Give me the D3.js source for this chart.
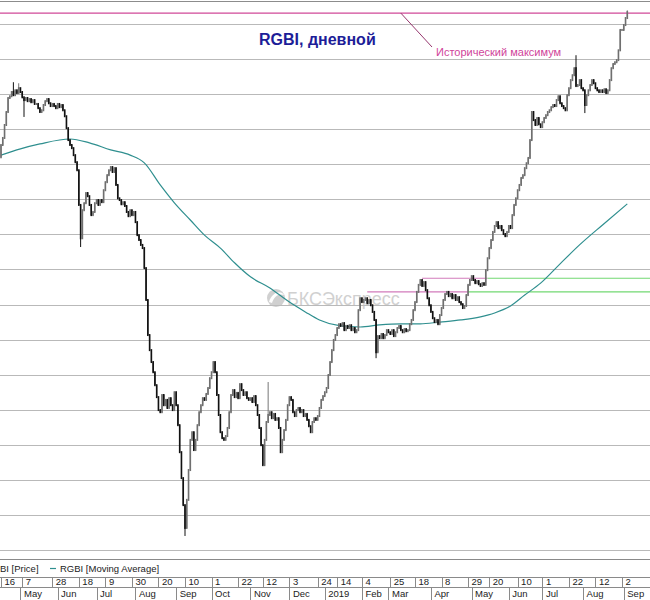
<!DOCTYPE html>
<html>
<head>
<meta charset="utf-8">
<script src="https://cdn.jsdelivr.net/npm/d3@7"></script>
<style>
  body { margin: 0; background: #fff; }
  svg { display: block; font-family: Arial, "Liberation Sans", sans-serif; }
</style>
</head>
<body>
<div id="chart"></div>
<script>
// daily closes, trading-day index 0 = 16 Apr 2018
const closes = [
  142.55,142.75,143.12,143.49,143.89,143.94,144.06,143.97,144.11,144.03,
  144.17,144.06,143.91,143.83,143.89,143.80,143.86,143.77,143.83,143.72,
  143.72,143.60,143.49,143.54,143.69,143.80,143.86,143.74,143.66,143.72,
  143.66,143.60,143.72,143.63,143.69,143.54,143.37,143.03,142.69,142.55,
  142.46,142.26,142.06,141.83,140.84,139.89,140.69,140.89,141.18,141.09,
  140.84,140.55,140.64,140.89,140.98,140.84,140.98,140.92,141.26,141.49,
  141.69,141.83,141.92,141.78,141.89,141.41,141.03,140.98,140.86,140.92,
  140.81,140.64,140.52,140.69,140.55,140.64,140.35,139.98,139.84,139.70,
  139.61,139.04,138.13,137.13,136.70,136.36,136.07,135.70,135.36,134.99,
  134.93,135.42,135.13,135.28,135.05,135.33,135.13,134.99,135.50,135.13,
  134.56,133.79,133.05,132.28,131.63,132.43,133.28,134.14,134.36,133.85,
  134.14,134.56,134.93,135.13,135.33,135.28,135.45,135.62,135.90,136.07,
  136.36,136.07,135.42,134.85,134.36,134.19,134.14,134.25,134.48,134.93,
  135.42,135.56,135.36,135.48,135.33,135.73,135.56,135.42,135.50,135.33,
  135.28,135.33,135.22,135.39,135.13,134.85,134.48,133.99,133.42,134.14,
  134.65,134.85,134.93,134.76,134.88,134.71,134.76,134.48,133.79,134.14,
  134.42,134.71,135.13,135.36,135.28,134.93,134.82,134.99,135.05,134.93,
  134.99,134.82,134.88,134.71,134.53,134.36,134.65,134.76,134.71,134.82,
  135.05,135.28,135.39,135.50,135.62,135.99,136.36,136.70,136.99,137.13,
  137.33,137.44,137.39,137.47,137.27,137.39,137.33,137.41,137.27,137.33,
  137.21,137.27,137.84,138.18,138.07,138.13,138.18,138.04,138.13,137.98,
  137.79,137.56,136.64,137.10,137.04,137.16,137.04,137.13,137.27,137.21,
  137.16,137.27,137.10,137.21,137.33,137.39,137.27,137.21,137.30,137.24,
  137.27,137.44,137.56,137.84,138.07,138.36,138.56,138.70,138.53,138.64,
  138.41,138.18,137.98,137.79,137.61,137.50,137.56,137.44,137.70,137.90,
  138.13,138.30,138.36,138.24,138.30,138.18,138.27,138.13,138.21,138.07,
  138.01,137.90,137.96,138.27,138.56,138.70,138.81,138.70,138.61,138.67,
  138.58,138.53,138.61,138.56,138.98,139.32,139.61,139.84,140.07,140.24,
  140.35,140.18,140.24,140.12,140.01,139.95,140.07,140.24,140.18,140.55,
  140.84,141.03,141.26,141.41,141.61,141.69,141.89,142.03,142.18,142.69,
  143.49,143.26,143.12,143.32,143.14,143.06,143.20,143.32,143.40,143.49,
  143.54,143.63,143.69,143.66,143.83,143.94,143.74,143.66,143.60,143.54,
  143.97,144.17,144.40,144.54,144.74,144.23,144.26,144.40,144.17,144.11,
  143.69,143.97,144.11,144.26,144.40,144.31,144.17,144.11,144.06,144.11,
  144.06,144.14,144.03,144.11,144.40,144.74,144.86,144.91,144.97,145.25,
  145.83,145.83,145.97,146.17,146.34
];
const firstOpen = 142.2;

// long wicks
const spikeIdx = [7, 10, 13, 45, 104, 151, 212, 325, 330, 354];
const spikeVal = [144.34, 144.31, 143.35, 139.64, 131.40, 135.79, 136.47, 145.11, 143.46, 146.39];

// moving average
const maIdx = [0, 11, 22, 39, 50, 62, 73, 81, 90, 98, 107, 115, 124, 132, 141, 152, 163, 172, 180,
  192, 203, 214, 226, 237, 248, 260, 271, 279, 288, 296, 305, 316, 327, 340, 354];
const maVal = [142.26, 142.44, 142.58, 142.72, 142.61, 142.41, 142.26, 142.04, 141.41, 140.90,
  140.41, 139.98, 139.61, 139.19, 138.79, 138.47, 138.07, 137.79, 137.56, 137.39, 137.36,
  137.42, 137.45, 137.45, 137.50, 137.56, 137.65, 137.76, 137.96, 138.27, 138.61, 139.16,
  139.70, 140.27, 140.87];

// level lines
const histMax = 146.31;
const levelVal = [138.75, 138.36];
const levelPinkFrom = [238, 207];
const levelGreenFrom = [275, 264];

// x axis
const dayTicks = [0, 12, 29, 44, 59, 74, 89, 104, 119, 134, 148, 163, 179, 190, 204, 220, 234, 249, 264, 276, 292, 306, 321, 336, 351];
const dayLabels = ["16","7","28","18","9","30","20","10","1","22","12","3","24","14","4","25","18","8","29","20","10","1","22","12","2"];
const monthTicks = [11, 32, 54, 76, 99, 119, 141, 163, 183, 204, 219, 243, 266, 287, 306, 329, 352];
const monthLabels = ["May","Jun","Jul","Aug","Sep","Oct","Nov","Dec","2019","Feb","Mar","Apr","May","Jun","Jul","Aug","Sep"];

const width = 650, height = 600;

const svg = d3.select("#chart").append("svg")
  .attr("width", width)
  .attr("height", height);

const x = d3.scaleLinear().domain([0, 351]).range([1, 622]);
const y = d3.scaleLinear().domain([131, 146]).range([550, 24]);

// grid
svg.append("g")
  .attr("class", "grid")
  .call(d3.axisRight(y).tickValues(d3.range(131, 147)).tickSize(width).tickFormat(""))
  .call(g => g.select(".domain").remove())
  .call(g => g.selectAll("line").attr("stroke", "#b9b9b9").attr("shape-rendering", "crispEdges"));

svg.append("line")
  .attr("x1", 0).attr("x2", width).attr("y1", 1.5).attr("y2", 1.5)
  .attr("stroke", "#8c8c8c");

// watermark
const wm = svg.append("g").attr("opacity", 0.7);
wm.append("circle").attr("cx", 276).attr("cy", 298).attr("r", 9).attr("fill", "#bdbdbd");
wm.append("path")
  .attr("d", "M269,302 C272,292 281,290 284,295 C279,293 274,296 272,303 Z")
  .attr("fill", "#fff");
wm.append("text")
  .attr("x", 287).attr("y", 305)
  .attr("font-size", 18)
  .attr("fill", "#bdbdbd")
  .text("БКСЭкспресс");

// historical max
svg.append("line")
  .attr("x1", 0).attr("x2", width)
  .attr("y1", y(histMax)).attr("y2", y(histMax))
  .attr("stroke", "#d04898").attr("stroke-width", 1.2);

// support / resistance
levelVal.forEach((v, k) => {
  svg.append("line")
    .attr("x1", x(levelPinkFrom[k])).attr("x2", x(levelGreenFrom[k]))
    .attr("y1", y(v)).attr("y2", y(v))
    .attr("stroke", "#d27bbb").attr("stroke-width", 1.2);
  svg.append("line")
    .attr("x1", x(levelGreenFrom[k])).attr("x2", width)
    .attr("y1", y(v)).attr("y2", y(v))
    .attr("stroke", "#72d872").attr("stroke-width", 1.2);
});

// moving average
const maLine = d3.line()
  .x(d => x(d[0]))
  .y(d => y(d[1]))
  .curve(d3.curveMonotoneX);
svg.append("path")
  .datum(maIdx.map((d, i) => [d, maVal[i]]))
  .attr("d", maLine)
  .attr("fill", "none")
  .attr("stroke", "#2f8f8f")
  .attr("stroke-width", 1.2);

// price bars
const bars = closes.map((c, i) => {
  const o = i ? closes[i - 1] : firstOpen;
  let hi = Math.max(o, c), lo = Math.min(o, c);
  const k = spikeIdx.indexOf(i);
  if (k >= 0) { hi = Math.max(hi, spikeVal[k]); lo = Math.min(lo, spikeVal[k]); }
  return { i, o, c, hi, lo };
});

const barG = svg.append("g");
barG.selectAll("line")
  .data(bars)
  .join("line")
  .attr("x1", d => x(d.i)).attr("x2", d => x(d.i))
  .attr("y1", d => y(d.hi)).attr("y2", d => y(d.lo))
  .attr("stroke", d => d.c < d.o ? "#111" : "#777")
  .attr("stroke-width", 1);
barG.selectAll("rect")
  .data(bars)
  .join("rect")
  .attr("x", d => x(d.i) - 0.8)
  .attr("width", 1.6)
  .attr("y", d => y(Math.max(d.o, d.c)) - 1)
  .attr("height", d => Math.abs(y(d.o) - y(d.c)) + 2)
  .attr("fill", d => d.c < d.o ? "#111" : "#6f6f6f");

// title and annotation
svg.append("text")
  .attr("x", 259).attr("y", 45)
  .attr("font-size", 16).attr("font-weight", "bold")
  .attr("fill", "#1d1d98")
  .text("RGBI, дневной");

svg.append("line")
  .attr("x1", x(226)).attr("y1", y(histMax))
  .attr("x2", 432).attr("y2", 47)
  .attr("stroke", "#96366e").attr("stroke-width", 1);
svg.append("text")
  .attr("x", 436).attr("y", 56)
  .attr("font-size", 11)
  .attr("fill", "#d0449a")
  .text("Исторический максимум");

// legend strip (left part of the first entry lies outside the frame)
svg.append("line")
  .attr("x1", 0).attr("x2", width).attr("y1", 559.5).attr("y2", 559.5)
  .attr("stroke", "#8a8a8a");
svg.append("text")
  .attr("x", 0).attr("y", 572)
  .attr("font-size", 9.5).attr("fill", "#222")
  .text("BI [Price]");
svg.append("line")
  .attr("x1", 50).attr("x2", 56).attr("y1", 568.5).attr("y2", 568.5)
  .attr("stroke", "#2f8f8f").attr("stroke-width", 1.2);
svg.append("text")
  .attr("x", 60).attr("y", 572)
  .attr("font-size", 9.5).attr("fill", "#222")
  .text("RGBI [Moving Average]");

// x axis (two rows)
svg.append("line")
  .attr("x1", 0).attr("x2", width).attr("y1", 577.5).attr("y2", 577.5)
  .attr("stroke", "#8a8a8a");
svg.append("line")
  .attr("x1", 0).attr("x2", width).attr("y1", 587.5).attr("y2", 587.5)
  .attr("stroke", "#8a8a8a");

const dayAxis = svg.append("g")
  .attr("transform", "translate(0,577)")
  .call(d3.axisBottom(x).tickValues(dayTicks).tickFormat((d, i) => dayLabels[i]).tickSize(10).tickPadding(0));
const monthAxis = svg.append("g")
  .attr("transform", "translate(0,587)")
  .call(d3.axisBottom(x).tickValues(monthTicks).tickFormat((d, i) => monthLabels[i]).tickSize(13).tickPadding(0));

[dayAxis, monthAxis].forEach(g => {
  g.select(".domain").remove();
  g.selectAll(".tick line").attr("stroke", "#8a8a8a").attr("shape-rendering", "crispEdges");
  g.selectAll(".tick text")
    .attr("text-anchor", "start")
    .attr("x", 3)
    .attr("dy", 0)
    .attr("fill", "#222")
    .attr("font-size", 9.5)
    .attr("font-family", "Arial, 'Liberation Sans', sans-serif");
});
dayAxis.selectAll(".tick text").attr("y", 8);
monthAxis.selectAll(".tick text").attr("y", 10);
</script>
</body>
</html>
